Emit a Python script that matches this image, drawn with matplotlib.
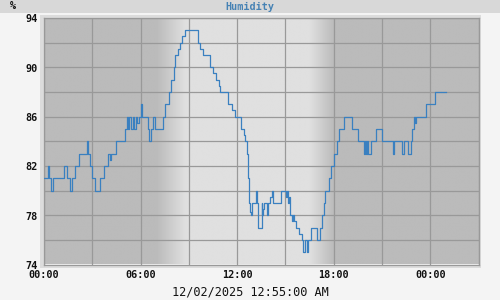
import numpy as np
import matplotlib
matplotlib.use("Agg")
import matplotlib.pyplot as plt
from matplotlib.patches import Rectangle

# ---- data (hours since 00:00, humidity %) : change points of a stepped series
hours = [0.00, 0.22, 0.30, 0.45, 0.58, 1.25, 1.45, 1.62, 1.75, 1.95, 2.20, 2.65, 2.75, 2.85,
         2.98, 3.15, 3.50, 3.70, 3.95, 4.10, 4.18, 4.45, 5.04, 5.15, 5.22, 5.30, 5.40, 5.50,
         5.60, 5.70, 5.80, 5.90, 6.00, 6.10, 6.45, 6.55, 6.62, 6.80, 6.90, 7.40, 7.55, 7.75,
         7.90, 8.05, 8.15, 8.30, 8.45, 8.60, 8.75, 9.55, 9.70, 9.85, 10.30, 10.50, 10.70,
         10.85, 10.95, 11.45, 11.70, 11.85, 12.25, 12.40, 12.50, 12.60, 12.65, 12.72, 12.78,
         12.82, 12.88, 12.95, 13.20, 13.25, 13.32, 13.52, 13.55, 13.62, 13.68, 13.88, 13.95,
         14.05, 14.18, 14.25, 14.72, 15.02, 15.08, 15.15, 15.22, 15.30, 15.40, 15.48, 15.55,
         15.65, 15.85, 16.05, 16.12, 16.22, 16.32, 16.42, 16.62, 16.98, 17.15, 17.28, 17.38,
         17.48, 17.70, 17.82, 18.05, 18.22, 18.35, 18.62, 19.12, 19.52, 19.88, 19.93, 19.98,
         20.05, 20.12, 20.30, 20.60, 21.03, 21.70, 21.78, 22.25, 22.40, 22.62, 22.78, 22.88,
         23.00, 23.05, 23.12, 23.75, 24.27, 24.97]
humidity = [81, 82, 81, 80, 81, 82, 81, 80, 81, 82, 83, 84, 83, 82,
            81, 80, 81, 82, 83, 82.5, 83, 84, 85, 86, 85, 86, 85, 86,
            85, 86, 85.5, 86, 87, 86, 85, 84, 85, 86, 85, 86, 87, 88,
            89, 90, 91, 91.5, 92, 92.5, 93, 92, 91.5, 91, 90, 89.5, 89,
            88.5, 88, 87, 86.5, 86, 85, 84.5, 84, 83, 81, 79, 78.7,
            78.3, 78, 79, 80, 79, 77, 79, 78, 78.5, 79, 78, 79,
            79.5, 80, 79, 80, 79.5, 80, 79, 79.5, 78, 77.5, 78, 77.5,
            77, 76.5, 76, 75, 76, 75, 76, 77, 76, 77, 78, 79,
            80, 81, 82, 83, 84, 85, 86, 85, 84, 83, 84, 83,
            84, 83, 84, 85, 84, 83, 84, 83, 84, 83, 84, 85,
            86, 85.5, 86, 87, 88, 88]

y_ticks = [74, 78, 82, 86, 90, 94]
x_tick_hours = [0, 6, 12, 18, 24]
x_tick_labels = ["00:00", "06:00", "12:00", "18:00", "00:00"]
title = "Humidity"
unit = "%"
stamp = "12/02/2025 12:55:00 AM"

# ---- style
W, H = 500, 300
fig = plt.figure(figsize=(W / 100, H / 100), dpi=100)
fig.patch.set_facecolor("#f4f4f4")
mono = "DejaVu Sans Mono"

# top band and plot frame
fig.patches.append(Rectangle((0, 1 - 13 / H), 1, 13 / H, transform=fig.transFigure,
                             facecolor="#d8d8d8", edgecolor="none", zorder=-10))
fig.patches.append(Rectangle((40 / W, 1 - 268 / H), 441 / W, 253 / H, transform=fig.transFigure,
                             facecolor="#dcdcdc", edgecolor="none", zorder=-10))

L, R, T, B = 44, 478.5, 18, 264.5
ax = fig.add_axes([L / W, 1 - B / H, (R - L) / W, (B - T) / H])
ax.set_zorder(1)

# day/night background
night = np.array([0xbb, 0xbb, 0xbb]) / 255
day = np.array([0xe0, 0xe0, 0xe0]) / 255
xs = np.linspace(0, 27, 1000)
f = np.clip((xs - 7.0) / (8.8 - 7.0), 0, 1) * np.clip((18.0 - xs) / (18.0 - 16.5), 0, 1)
img = night[None, :] * (1 - f[:, None]) + day[None, :] * f[:, None]
ax.imshow(img[None, :, :], extent=[0, 27, 74, 94], aspect="auto", zorder=0,
          interpolation="bilinear")

ax.plot(hours, humidity, drawstyle="steps-post", color="#3a80c0", lw=0.9, zorder=3)

ax.set_xlim(0, 27)
ax.set_ylim(74, 94)
ax.set_xticks(np.arange(0, 28, 3), minor=False)
ax.set_yticks(np.arange(74, 95, 2))
ax.grid(True, color="#999999", lw=0.9, zorder=1)
ax.set_axisbelow(False)
ax.tick_params(length=0, labelbottom=False, labelleft=False)
for s in ax.spines.values():
    s.set_color("#999999")
    s.set_linewidth(0.9)

for v in y_ticks:
    yp = T + (94 - v) / 20 * (B - T)
    fig.text(38 / W, 1 - (yp + 1.5) / H, str(v), ha="right", va="center",
             family=mono, weight="bold", size=7.3, color="#111111")
for h, lab in zip(x_tick_hours, x_tick_labels):
    xp = L + h / 27 * (R - L)
    fig.text(xp / W, 1 - 275.5 / H, lab, ha="center", va="center",
             family=mono, weight="bold", size=7.3, color="#111111")

fig.text(250 / W, 1 - 7 / H, title, ha="center", va="center", family=mono,
         weight="bold", size=7.3, color="#4682b4")
fig.text(13 / W, 1 - 6 / H, unit, ha="center", va="center", family=mono,
         weight="bold", size=7.3, color="#111111")
fig.text(250 / W, 1 - 292 / H, stamp, ha="center", va="center", family=mono,
         size=8.6, color="#111111")

fig.savefig("out.png", dpi=100, facecolor=fig.get_facecolor())
